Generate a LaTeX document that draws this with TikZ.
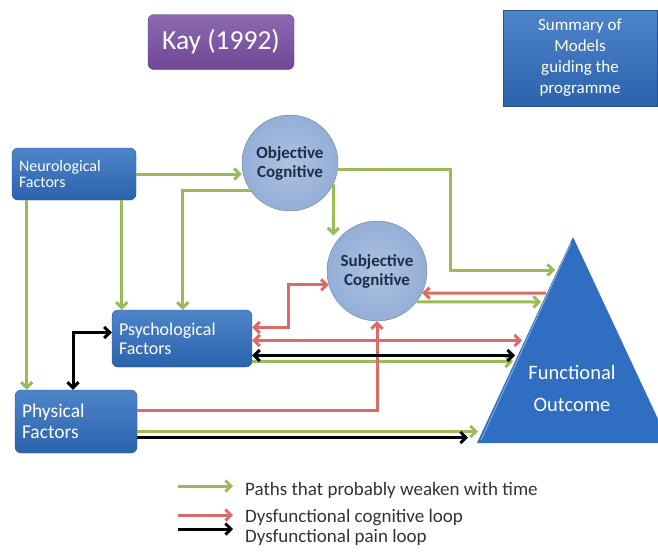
\documentclass[tikz,border=0pt]{standalone}
\usepackage{fontspec}
\setmainfont{Carlito}
\usetikzlibrary{arrows.meta}
\definecolor{boxblue}{HTML}{2F6EC0}
\definecolor{bubbleblue}{HTML}{94AED6}
\definecolor{kaypurple}{HTML}{7A4FA5}
\definecolor{pathgreen}{HTML}{9BBB59}
\definecolor{loopred}{HTML}{DB6B67}
\definecolor{navytext}{HTML}{1E2D4D}

\begin{document}
\begin{tikzpicture}[x=1pt, y=-1pt,
		factor/.style={rectangle, rounded corners=6pt, top color=boxblue!85!white, bottom color=boxblue!90!black, draw=boxblue!75!black, text=white, align=left, inner xsep=7pt},
		bubble/.style={circle, inner color=bubbleblue!75!white, outer color=bubbleblue, draw=bubbleblue!75!black, text=navytext, align=center, inner sep=0pt, font=\bfseries\fontsize{17}{19}\selectfont},
		tip/.style={line width=3pt},
		greenarr/.style={tip, pathgreen, -{Straight Barb[length=5.5pt,width=11pt]}},
		redarr/.style={tip, loopred, -{Straight Barb[length=5.5pt,width=11pt]}},
		redboth/.style={tip, loopred, {Straight Barb[length=5.5pt,width=11pt]}-{Straight Barb[length=5.5pt,width=11pt]}},
		blackarr/.style={tip, black, -{Straight Barb[length=5.5pt,width=11pt]}},
		blackboth/.style={tip, black, {Straight Barb[length=5.5pt,width=11pt]}-{Straight Barb[length=5.5pt,width=11pt]}},
		legend/.style={anchor=west, inner sep=0pt, text=black!80, font=\fontsize{19}{21}\selectfont},
	]
	\useasboundingbox (0,0) rectangle (658,552);

	\node[factor, top color=kaypurple!85!white, bottom color=kaypurple!90!black, draw=kaypurple!75!black, align=center, minimum width=146pt, minimum height=55pt, font=\fontsize{27.5}{30}\selectfont] (kay) at (221,42) {Kay (1992)};
	\node[rectangle, top color=boxblue!85!white, bottom color=boxblue!90!black, draw=boxblue!75!black, text=white, align=center, minimum width=154pt, minimum height=96pt, font=\fontsize{17}{21}\selectfont] (summary) at (580,58) {Summary of\\Models\\guiding the\\programme};

	\node[factor, text width=110pt, minimum height=52pt, font=\fontsize{16}{17}\selectfont] (neuro) at (74,174) {Neurological\\Factors};
	\node[factor, text width=126pt, minimum height=57pt, font=\fontsize{18}{19}\selectfont] (psych) at (182,338.5) {Psychological\\Factors};
	\node[factor, text width=108pt, minimum height=63pt, font=\fontsize{19.5}{21}\selectfont] (physical) at (76,421.5) {Physical\\Factors};

	\node[bubble, minimum size=96pt] (objective) at (290,163) {Objective\\Cognitive};
	\node[bubble, minimum size=100pt] (subjective) at (377,271) {Subjective\\Cognitive};

	% Functional outcome triangle, cut by the right edge
	\fill[boxblue] (573,237) -- (477,443) -- (658,443) -- (658,419) -- cycle;
	\draw[boxblue!60!white, line width=1pt] (571,243) -- (481,440);
	\node[text=white, align=center, font=\fontsize{20.5}{32}\selectfont] (outcome) at (572,388) {Functional\\Outcome};
	\coordinate (e270) at (555,270);
	\coordinate (e293) at (546,293);
	\coordinate (e302) at (541,302);
	\coordinate (e340) at (522,340.5);
	\coordinate (e355) at (515,355.5);
	\coordinate (e361) at (513,361.5);
	\coordinate (e432) at (478,431.5);
	\coordinate (e437) at (468,437.5);

	% Paths that weaken with time
	\draw[greenarr] (neuro.east) -- (neuro.east -| objective.west);
	\draw[greenarr] ([xshift=10pt]psych.north west |- neuro.south) -- ([xshift=10pt]psych.north west);
	\draw[greenarr] ([xshift=15pt]neuro.south west) -- ([xshift=15pt]neuro.south west |- physical.north);
	\draw[greenarr] (objective.215) -| ([xshift=71pt]psych.north west);
	\draw[greenarr] (objective.-26) -- (objective.-26 |- subjective.north west);
	\draw[greenarr] (objective.-8) -| ([xshift=-105pt]e270) -- (e270);
	\draw[greenarr] (subjective.-38) -- (e302);
	\draw[greenarr] ([yshift=-23pt]psych.east) -- (e361);
	\draw[greenarr] ([yshift=-10pt]physical.east) -- (e432);

	% Cognitive loop
	\draw[redboth] ([yshift=11pt]psych.east) -- ++(36,0) |- (subjective.196);
	\draw[redboth] ([yshift=-2pt]psych.east) -- (e340);
	\draw[redarr] (e293) -- (subjective.-26);
	\draw[redarr] ([yshift=11pt]physical.east) -| (subjective.south);

	% Pain loop
	\draw[blackboth] ([xshift=-3pt]physical.north) |- ([yshift=6pt]psych.west);
	\draw[blackboth] ([yshift=-17pt]psych.east) -- (e355);
	\draw[blackarr] ([yshift=-16pt]physical.east) -- (e437);

	% Legend
	\node[legend] (lgreen) at (245,490) {Paths that probably weaken with time};
	\node[legend] (lred) at (245,518) {Dysfunctional cognitive loop};
	\node[legend] (lblack) at (245,537) {Dysfunctional pain loop};
	\draw[greenarr] ([xshift=-67pt,yshift=4pt]lgreen.west) -- ([xshift=-12pt,yshift=4pt]lgreen.west);
	\draw[redarr] ([xshift=-67pt,yshift=3pt]lred.west) -- ([xshift=-12pt,yshift=3pt]lred.west);
	\draw[blackarr] ([xshift=-67pt,yshift=8pt]lblack.west) -- ([xshift=-12pt,yshift=8pt]lblack.west);
\end{tikzpicture}
\end{document}
